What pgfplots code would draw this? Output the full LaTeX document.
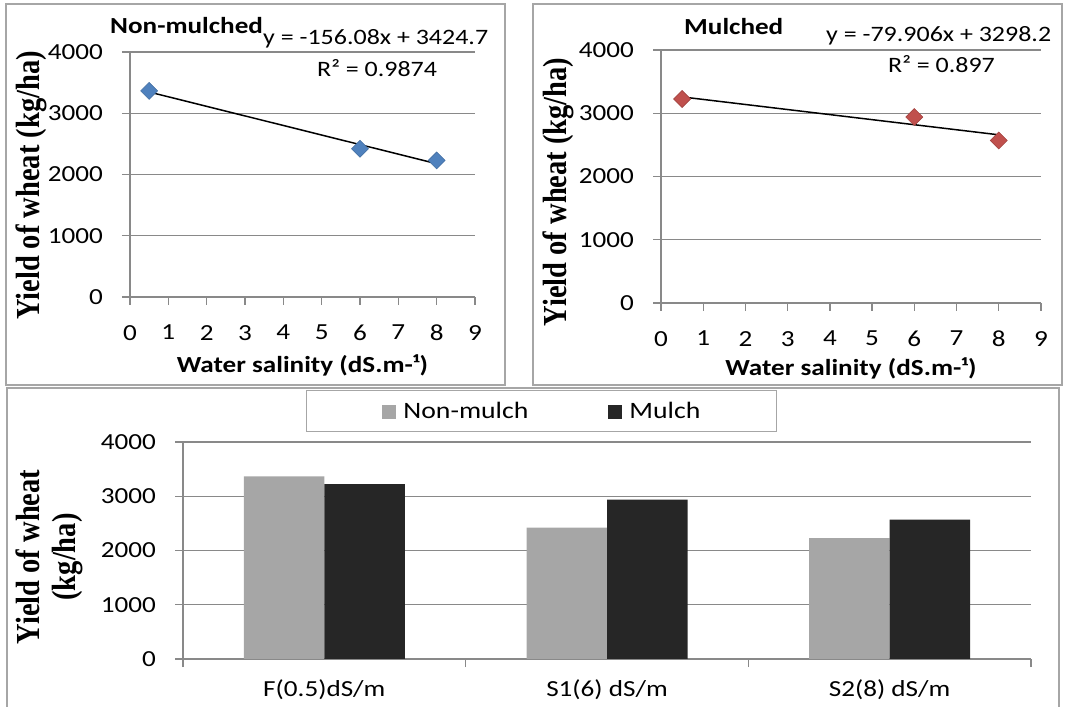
\documentclass[border=0pt]{standalone}
\usepackage{fontspec}
\setmainfont{Carlito}[FakeStretch=1.18]
\newfontfamily\tnr{Liberation Serif}
\usepackage{graphicx}
\usepackage{pgfplots}
\pgfplotsset{compat=1.18}
\definecolor{gridgray}{HTML}{898989}
\definecolor{framegray}{HTML}{A6A6A6}
\definecolor{blueM}{HTML}{4F81BD}
\definecolor{redM}{HTML}{C0504D}
\definecolor{barA}{HTML}{A6A6A6}
\definecolor{barB}{HTML}{262626}
\newcommand{\tickfont}{\fontsize{23}{23}\selectfont}
\newcommand{\ylab}[1]{\scalebox{1}[1.18]{\tnr\bfseries #1}}
\pgfplotsset{
 excel/.style={
  scale only axis,
  axis x line*=bottom, axis y line*=left,
  axis line style={gridgray, line width=1.3pt, -},
  ymajorgrids, grid style={gridgray, line width=1.3pt},
  tick align=outside, major tick length=8pt,
  tick style={gridgray, line width=1.3pt},
  ymin=0, ymax=4000, ytick={0,1000,2000,3000,4000},
  scaled y ticks=false,
  /pgf/number format/assume math mode=true,
  /pgf/number format/1000 sep={},
  ticklabel style={font=\tickfont, text=black},
  yticklabel style={inner sep=0pt, anchor=east, xshift=-19pt},
  xticklabel style={inner sep=0pt, anchor=north, yshift=-20pt},
  xlabel style={font=\bfseries\fontsize{23}{23}\selectfont, anchor=base},
  ylabel style={font=\fontsize{28.5}{36}\selectfont},
 }
}
\begin{document}
\begin{tikzpicture}
\useasboundingbox (0,0) rectangle (1066pt,707pt);
% panel frames
\draw[framegray, line width=2pt] (6pt,322pt) rectangle (505pt,703pt);
\draw[framegray, line width=2pt] (533pt,322pt) rectangle (1062pt,703pt);
\draw[framegray, line width=2pt] (7pt,-3pt) rectangle (1059pt,319pt);

% ---------- Non-mulched ----------
\begin{axis}[excel, at={(130pt,410pt)}, anchor=south west,
  width=345pt, height=245pt, xmin=0, xmax=9, xtick={0,1,...,9},
  ylabel={\ylab{Yield of wheat (kg/ha)}},
  ylabel style={at={(axis description cs:-0.287,0.455)}, anchor=center},
  xlabel={Water salinity (dS.m-¹)},
  xlabel style={at={(axis description cs:0.5,-0.310)}},
]
\addplot[only marks, mark=square*, mark size=6pt,
  mark options={rotate=45, fill=blueM, draw=blueM!85!black, line width=0.6pt}]
  coordinates {(0.5,3365) (6,2420) (8,2230)};
\addplot[black, line width=1.5pt] coordinates {(0.5,3346.66) (8,2176.06)};
\end{axis}
\node[anchor=base west, font=\bfseries\fontsize{23}{23}\selectfont, inner sep=0pt] at (110pt,673pt) {Non-mulched};
\node[anchor=base west, font=\fontsize{22}{22}\selectfont, inner sep=0pt] at (263pt,662pt) {y = -156.08x + 3424.7};
\node[anchor=base west, font=\fontsize{22}{22}\selectfont, inner sep=0pt] at (317pt,630pt) {R² = 0.9874};

% ---------- Mulched ----------
\begin{axis}[excel, at={(661pt,404pt)}, anchor=south west,
  width=380pt, height=253pt, xmin=0, xmax=9, xtick={0,1,...,9},
  ylabel={\ylab{Yield of wheat (kg/ha)}},
  ylabel style={at={(axis description cs:-0.271,0.439)}, anchor=center},
  xlabel={Water salinity (dS.m-¹)},
  xlabel style={at={(axis description cs:0.5,-0.2846)}},
]
\addplot[only marks, mark=square*, mark size=6pt,
  mark options={rotate=45, fill=redM, draw=redM!85!black, line width=0.6pt}]
  coordinates {(0.5,3225) (6,2940) (8,2570)};
\addplot[black, line width=1.5pt] coordinates {(0.5,3258.25) (8,2658.96)};
\end{axis}
\node[anchor=base west, font=\bfseries\fontsize{23}{23}\selectfont, inner sep=0pt] at (684pt,672pt) {Mulched};
\node[anchor=base west, font=\fontsize{22}{22}\selectfont, inner sep=0pt] at (826pt,665pt) {y = -79.906x + 3298.2};
\node[anchor=base west, font=\fontsize{22}{22}\selectfont, inner sep=0pt] at (888pt,634pt) {R² = 0.897};

% ---------- Bars ----------
\begin{axis}[excel, at={(183pt,48pt)}, anchor=south west,
  width=848pt, height=217pt, xmin=0, xmax=3,
  xtick={0,1,2,3}, xticklabels={},
  extra x ticks={0.5,1.5,2.5},
  extra x tick labels={F(0.5)dS/m, S1(6) dS/m, S2(8) dS/m},
  extra x tick style={major tick length=0pt, tick style={draw=none}},
  ybar=0pt, bar width=80.5pt,
  ylabel={\ylab{Yield of wheat}\\\ylab{(kg/ha)}},
  ylabel style={align=center, at={(axis description cs:-0.158,0.47)}, anchor=center},
  legend columns=2,
  legend style={at={(axis description cs:0.1450,1.2396)}, anchor=north west,
    draw=framegray, line width=1pt, font=\fontsize{23.5}{23.5}\selectfont,
    inner xsep=76pt, inner ysep=13pt,
    nodes={inner sep=0pt, text height=15pt, text depth=0pt},
    /tikz/column 1/.style={column sep=7pt},
    /tikz/column 2/.style={column sep=80pt},
    /tikz/column 3/.style={column sep=7pt}},
]
\addplot[fill=barA, draw=none, legend image code/.code={\fill[barA] (0pt,-7.5pt) rectangle (14pt,6.5pt);}]
  coordinates {(0.5,3365) (1.5,2420) (2.5,2230)};
\addplot[fill=barB, draw=none, legend image code/.code={\fill[barB] (0pt,-7.5pt) rectangle (14pt,6.5pt);}]
  coordinates {(0.5,3225) (1.5,2940) (2.5,2570)};
\legend{Non-mulch, Mulch}
\end{axis}
\end{tikzpicture}
\end{document}
